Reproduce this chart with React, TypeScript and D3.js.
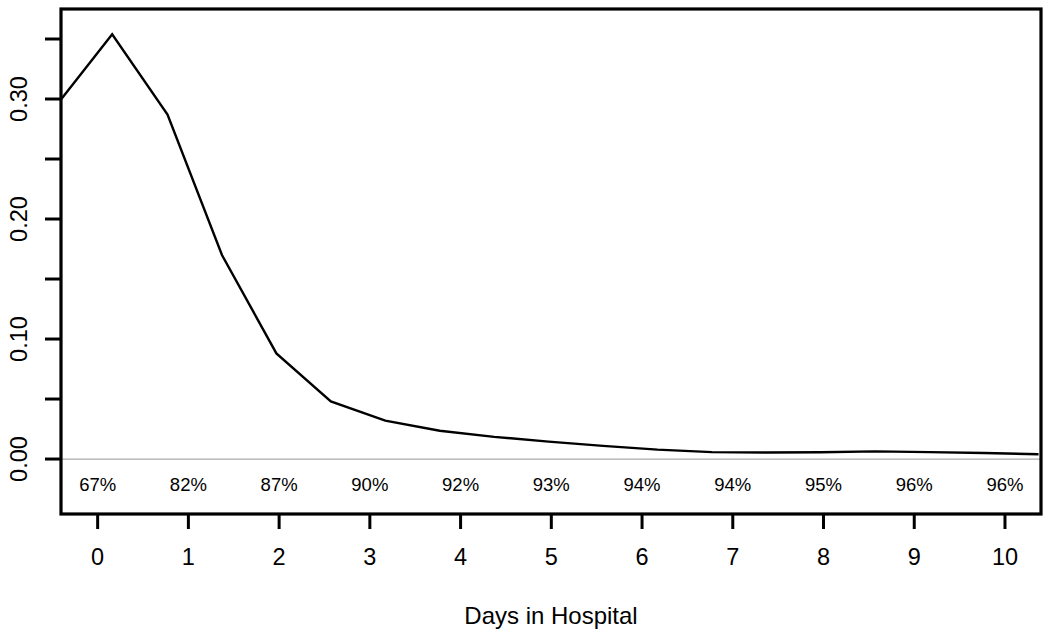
import React from "react";
import * as d3 from "d3";

const days = [0, 1, 2, 3, 4, 5, 6, 7, 8, 9, 10];
const percentLabels = ["67%", "82%", "87%", "90%", "92%", "93%", "94%", "94%", "95%", "96%", "96%"];
const curveX = [-0.4, 0.16, 0.77, 1.37, 1.97, 2.57, 3.17, 3.77, 4.37, 4.97, 5.57, 6.17, 6.77, 7.37, 7.97, 8.57, 9.17, 9.77, 10.37];
const curveY = [0.3, 0.354, 0.287, 0.17, 0.088, 0.048, 0.032, 0.0236, 0.0185, 0.0145, 0.011, 0.0078, 0.0058, 0.0054, 0.0056, 0.0064, 0.0058, 0.005, 0.004];
const yTicks = [0, 0.05, 0.1, 0.15, 0.2, 0.25, 0.3, 0.35];
const yLabeled = [0, 0.1, 0.2, 0.3];
const xTitle = "Days in Hospital";

const W = 1050, H = 636;
const L = 61, R = 1041, T = 9, B = 514;

export default function App() {
  const x = d3.scaleLinear().domain([-0.404, 10.397]).range([L, R]);
  const y = d3.scaleLinear().domain([-0.0458, 0.375]).range([B, T]);
  const line = d3.line<number>().x((_, i) => x(curveX[i])).y((d) => y(d));
  const font = "Liberation Sans, Arial, sans-serif";
  return (
    <svg width={W} height={H} style={{ position: "absolute", left: 0, top: 0, background: "#fff" }} fontFamily={font}>
      <rect x={0} y={0} width={W} height={H} fill="#fff" />
      <line x1={L} x2={R} y1={y(0)} y2={y(0)} stroke="#aaa" strokeWidth={1.2} />
      <path d={line(curveY) || ""} fill="none" stroke="#000" strokeWidth={2.4} strokeLinejoin="miter" />
      {days.map((d, i) => (
        <text key={"p" + d} x={x(d)} y={484} textAnchor="middle" dominantBaseline="central" fontSize={18.5} fill="#000">
          {percentLabels[i]}
        </text>
      ))}
      <rect x={L} y={T} width={R - L} height={B - T} fill="none" stroke="#000" strokeWidth={3.2} />
      {days.map((d) => (
        <g key={"x" + d}>
          <line x1={x(d)} x2={x(d)} y1={B} y2={529} stroke="#000" strokeWidth={3} />
          <text x={x(d)} y={557} textAnchor="middle" dominantBaseline="central" fontSize={23.5} fill="#000">
            {d}
          </text>
        </g>
      ))}
      {yTicks.map((t) => (
        <line key={"yt" + t} x1={45} x2={L} y1={y(t)} y2={y(t)} stroke="#000" strokeWidth={3} />
      ))}
      {yLabeled.map((t) => (
        <text key={"yl" + t} transform={`translate(19,${y(t)}) rotate(-90)`} textAnchor="middle" dominantBaseline="central" fontSize={23.5} fill="#000">
          {d3.format(".2f")(t)}
        </text>
      ))}
      <text x={551} y={615} textAnchor="middle" dominantBaseline="central" fontSize={24} fill="#000">
        {xTitle}
      </text>
    </svg>
  );
}
